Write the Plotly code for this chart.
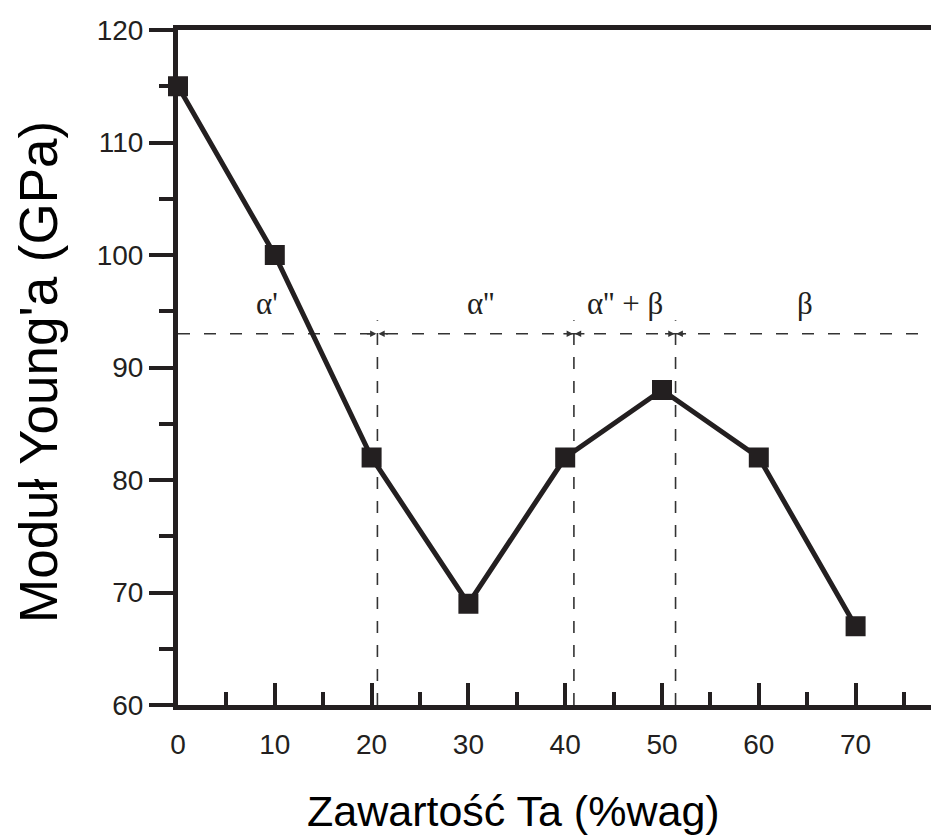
import plotly.graph_objects as go

# Young's modulus of Ti-Ta alloys versus tantalum content
ta_content = [0, 10, 20, 30, 40, 50, 60, 70]
youngs_modulus = [115, 100, 82, 69, 82, 88, 82, 67]

# phase boundaries (wt% Ta) and the level of the phase marker line (GPa)
phase_boundaries = [20.6, 40.9, 51.4]
phase_line_level = 93
phase_line_top = 94.2
phase_labels = ["α'", "α''", "α'' + β", "β"]
phase_label_x = [9.2, 31.2, 46.2, 64.8]
phase_label_y = 95.7

x_tick_vals = [0, 10, 20, 30, 40, 50, 60, 70]
y_tick_vals = [60, 70, 80, 90, 100, 110, 120]

INK = "#231f20"
W, H = 931, 837
ML, MR, MT, MB = 178, 0, 30, 132
X_MAX = (W - ML - MR) / 9.68

fig = go.Figure()

# horizontal phase line
fig.add_trace(go.Scatter(
    x=[0, X_MAX], y=[phase_line_level, phase_line_level], mode="lines",
    line=dict(color="#333333", width=1.6, dash="12px,14px"),
    hoverinfo="skip", showlegend=False, cliponaxis=False))

# vertical phase boundaries
for xb in phase_boundaries:
    fig.add_trace(go.Scatter(
        x=[xb, xb], y=[60, phase_line_top], mode="lines",
        line=dict(color="#333333", width=1.6, dash="12px,12px"),
        hoverinfo="skip", showlegend=False))

# measured data
fig.add_trace(go.Scatter(
    x=ta_content, y=youngs_modulus, mode="lines+markers",
    line=dict(color=INK, width=5),
    marker=dict(symbol="square", size=20, color=INK),
    showlegend=False, cliponaxis=False))

annotations = []
# arrows pointing at each boundary from both sides
for xb in phase_boundaries:
    for side in (-1, 1):
        annotations.append(dict(
            x=xb, y=phase_line_level, xref="x", yref="y", text="",
            showarrow=True, ax=side * 12, ay=0, arrowhead=2, arrowsize=0.9,
            arrowwidth=1.4, arrowcolor="#333333", standoff=1))

for lbl, lx in zip(phase_labels, phase_label_x):
    annotations.append(dict(
        x=lx, y=phase_label_y, xref="x", yref="y", text=lbl, showarrow=False,
        font=dict(family="Liberation Serif, Times New Roman, serif", size=31, color=INK)))

annotations.append(dict(
    x=(513 - ML) / (W - ML - MR), y=0, xref="paper", yref="paper",
    yshift=-106, text="Zawartość Ta (%wag)", showarrow=False, yanchor="middle",
    font=dict(family="Liberation Sans, Arial, sans-serif", size=43, color="#000000")))
annotations.append(dict(
    x=0, y=(705 - 372) / 675, xref="paper", yref="paper", xshift=-139,
    text="Moduł Young'a (GPa)", showarrow=False, textangle=-90,
    xanchor="center", yanchor="middle",
    font=dict(family="Liberation Sans, Arial, sans-serif", size=53, color="#000000")))

fig.update_layout(
    width=W, height=H,
    margin=dict(l=ML, r=MR, t=MT, b=MB, pad=0),
    paper_bgcolor="white", plot_bgcolor="white",
    showlegend=False,
    annotations=annotations,
    font=dict(family="Liberation Sans, Arial, sans-serif", size=28, color=INK),
    xaxis=dict(
        range=[0, X_MAX], tickvals=x_tick_vals, ticks="inside", ticklen=22,
        tickwidth=4, tickcolor=INK, showline=True, linewidth=5, linecolor=INK,
        mirror=True, showgrid=False, zeroline=False, ticklabelstandoff=10,
        minor=dict(dtick=5, tick0=0, ticks="inside", ticklen=13, tickwidth=4,
                   tickcolor=INK, showgrid=False),
    ),
    yaxis=dict(
        range=[60, 120], tickvals=y_tick_vals, ticks="outside", ticklen=24,
        tickwidth=4, tickcolor=INK, showline=True, linewidth=5, linecolor=INK,
        showgrid=False, zeroline=False,
        minor=dict(dtick=5, tick0=60, ticks="outside", ticklen=14, tickwidth=4,
                   tickcolor=INK, showgrid=False),
    ),
)

fig.write_html("out.html", config={"displayModeBar": False})
